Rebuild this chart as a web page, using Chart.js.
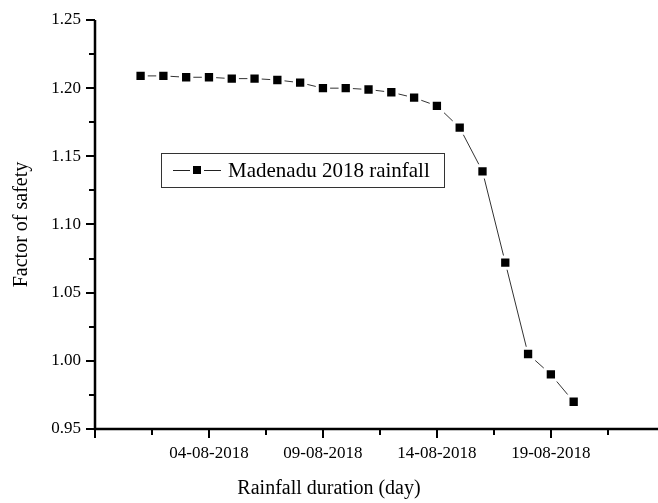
<!DOCTYPE html>
<html>
<head>
<meta charset="utf-8">
<script src="https://cdn.jsdelivr.net/npm/chart.js@4.4.1/dist/chart.umd.min.js"></script>
<style>
html, body { margin: 0; padding: 0; background: #fff; overflow: hidden; }
#wrap { width: 658px; height: 503px; position: relative; }
</style>
</head>
<body>
<div id="wrap"><canvas id="grafica"></canvas></div>
<script>
const serieNombre = 'Madenadu 2018 rainfall';
// dia de agosto 2018
const diasAgosto = [1, 2, 3, 4, 5, 6, 7, 8, 9, 10, 11, 12, 13, 14, 15, 16, 17, 18, 19, 20];
const factorSeguridad = [1.209, 1.209, 1.208, 1.208, 1.207, 1.207, 1.206, 1.204, 1.200, 1.200,
                         1.199, 1.197, 1.193, 1.187, 1.171, 1.139, 1.072, 1.005, 0.990, 0.970];

const ticksX = [-1, 4, 9, 14, 19];
const etiquetasX = ['', '04-08-2018', '09-08-2018', '14-08-2018', '19-08-2018'];
const ticksXMenores = [1.5, 6.5, 11.5, 16.5, 21.5];
const ticksY = [0.95, 1.00, 1.05, 1.10, 1.15, 1.20, 1.25];
const ticksYMenores = [0.975, 1.025, 1.075, 1.125, 1.175, 1.225];

const fuente = "'Liberation Serif', 'Times New Roman', serif";

// ejes y marcas (mayores y menores, hacia fuera)
const marcasEjes = {
    id: 'marcasEjes',
    afterDraw(chart) {
        const ctx = chart.ctx;
        const x = chart.scales.x, y = chart.scales.y;
        const a = chart.chartArea;
        const fondo = Math.round(a.bottom), izq = Math.round(a.left);
        ctx.save();
        ctx.strokeStyle = '#000';
        ctx.lineWidth = 2.5;
        ctx.beginPath();
        ctx.moveTo(izq, Math.round(a.top));
        ctx.lineTo(izq, fondo);
        ctx.lineTo(Math.round(a.right), fondo);
        ctx.stroke();
        ctx.lineWidth = 2;
        ctx.beginPath();
        ticksX.forEach(v => { const p = Math.round(x.getPixelForValue(v)); ctx.moveTo(p, fondo); ctx.lineTo(p, fondo + 9); });
        ticksXMenores.forEach(v => { const p = Math.round(x.getPixelForValue(v)); ctx.moveTo(p, fondo); ctx.lineTo(p, fondo + 6); });
        ticksY.forEach(v => { const p = Math.round(y.getPixelForValue(v)); ctx.moveTo(izq, p); ctx.lineTo(izq - 9, p); });
        ticksYMenores.forEach(v => { const p = Math.round(y.getPixelForValue(v)); ctx.moveTo(izq, p); ctx.lineTo(izq - 6, p); });
        ctx.stroke();
        ctx.restore();
    }
};

// leyenda con marco dentro del area
const leyendaCaja = {
    id: 'leyendaCaja',
    afterDraw(chart) {
        const ctx = chart.ctx;
        const area = chart.chartArea;
        const x0 = Math.round(area.left) + 66, y0 = 153, w = 283, h = 34;
        const cy = y0 + h / 2;
        ctx.save();
        ctx.strokeStyle = '#333';
        ctx.lineWidth = 1;
        ctx.strokeRect(x0 + 0.5, y0 + 0.5, w, h);
        ctx.strokeStyle = '#222';
        ctx.beginPath();
        ctx.moveTo(x0 + 12, cy + 0.5); ctx.lineTo(x0 + 29, cy + 0.5);
        ctx.moveTo(x0 + 43, cy + 0.5); ctx.lineTo(x0 + 60, cy + 0.5);
        ctx.stroke();
        ctx.fillStyle = '#000';
        ctx.fillRect(x0 + 32, cy - 4, 8, 8);
        ctx.font = '21px ' + fuente;
        ctx.textBaseline = 'middle';
        ctx.fillText(chart.data.datasets[0].label, x0 + 67, cy + 1);
        ctx.restore();
    }
};

new Chart('grafica', {
    type: 'line',
    data: {
        datasets: [{
            label: serieNombre,
            data: diasAgosto.map((d, i) => ({ x: d, y: factorSeguridad[i] })),
            borderColor: '#333',
            borderWidth: 1,
            pointStyle: 'rect',
            pointRadius: 8,
            pointBackgroundColor: '#000',
            pointBorderColor: '#fff',
            pointBorderWidth: 3,
            tension: 0
        }]
    },
    options: {
        responsive: true,
        maintainAspectRatio: false,
        animation: false,
        events: [],
        layout: { autoPadding: false, padding: { top: 20, right: 0, bottom: 0, left: 0 } },
        plugins: {
            legend: { display: false },
            tooltip: { enabled: false },
            title: {
                display: true,
                position: 'bottom',
                text: 'Rainfall duration (day)',
                color: '#000',
                font: { family: fuente, size: 20, weight: 'normal' },
                padding: { top: 0, bottom: 2 }
            }
        },
        scales: {
            x: {
                type: 'linear',
                min: -1,
                max: 23.7,
                afterBuildTicks: s => { s.ticks = ticksX.map(v => ({ value: v })); },
                afterFit: s => { s.height = 48; s.paddingLeft = 0; s.paddingRight = 0; },
                grid: { display: false, drawTicks: false },
                border: { display: false },
                ticks: {
                    padding: 14,
                    color: '#000',
                    maxRotation: 0,
                    autoSkip: false,
                    font: { family: fuente, size: 17 },
                    callback: (v, i) => etiquetasX[i]
                }
            },
            y: {
                min: 0.95,
                max: 1.25,
                afterBuildTicks: s => { s.ticks = ticksY.map(v => ({ value: v })); },
                afterFit: s => { s.width = 95; s.paddingTop = 0; s.paddingBottom = 0; },
                grid: { display: false, drawTicks: false },
                border: { display: false },
                ticks: {
                    padding: 14,
                    color: '#000',
                    font: { family: fuente, size: 17 },
                    callback: v => v.toFixed(2)
                },
                title: {
                    display: true,
                    text: 'Factor of safety',
                    color: '#000',
                    font: { family: fuente, size: 20 },
                    padding: { top: 10, bottom: 0 }
                }
            }
        }
    },
    plugins: [marcasEjes, leyendaCaja]
});
</script>
</body>
</html>
